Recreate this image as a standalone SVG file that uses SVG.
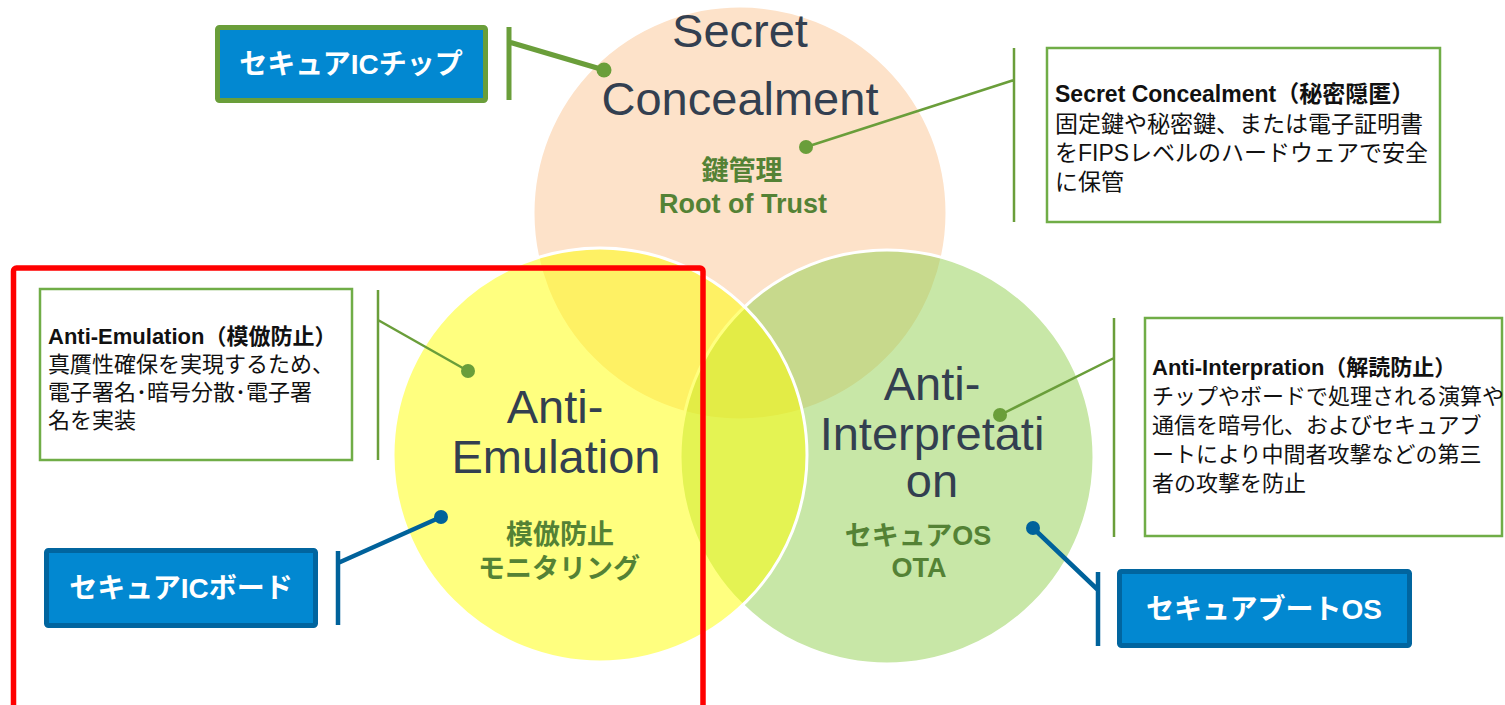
<svg xmlns="http://www.w3.org/2000/svg" width="1505" height="705" viewBox="0 0 1505 705">
<style>
.circ{stroke:#fff;stroke-width:3}
.title{font-family:"Liberation Sans","Noto Sans CJK JP",sans-serif;font-size:47px;fill:#333f50;text-anchor:middle}
.sub{font-family:"Liberation Sans","Noto Sans CJK JP",sans-serif;font-size:27px;font-weight:bold;fill:#548235;text-anchor:middle}
.box{fill:#fff;stroke:#70ad47;stroke-width:2.5}
.body{font-family:"Liberation Sans","Noto Sans CJK JP",sans-serif;font-size:22px;fill:#111}
.bold{font-weight:bold}
.btn{fill:#0288d1;stroke-width:5}
.btntxt{font-family:"Liberation Sans","Noto Sans CJK JP",sans-serif;font-size:28px;font-weight:bold;fill:#fff;text-anchor:middle}
.gline{stroke:#6a9e3a;fill:none}
.bline{stroke:#00629b;fill:none;stroke-width:4.5}
</style>
<rect width="1505" height="705" fill="#fff"/>
<g id="circle-secret">
  <circle class="circ" cx="740" cy="213" r="207" fill="#fde2c9"/>
</g>
<g id="circle-interpretation">
  <circle class="circ" cx="887" cy="457" r="207" fill="#92d050" fill-opacity="0.5"/>
</g>
<g id="circle-emulation">
  <circle class="circ" cx="600" cy="455" r="207" fill="#ffff00" fill-opacity="0.5"/>
</g>
<g id="labels-secret">
  <text class="title" x="740" y="47">Secret</text>
  <text class="title" x="740" y="115">Concealment</text>
  <text class="sub" x="742" y="180">鍵管理</text>
  <text class="sub" x="743" y="213">Root of Trust</text>
</g>
<g id="labels-emulation">
  <text class="title" x="555" y="423">Anti-</text>
  <text class="title" x="556" y="473">Emulation</text>
  <text class="sub" x="560" y="544">模倣防止</text>
  <text class="sub" x="559" y="578">モニタリング</text>
</g>
<g id="labels-interpretation">
  <text class="title" x="932" y="400">Anti-</text>
  <text class="title" x="932" y="450">Interpretati</text>
  <text class="title" x="932" y="497">on</text>
  <text class="sub" x="918" y="545">セキュアOS</text>
  <text class="sub" x="919" y="577">OTA</text>
</g>
<g id="highlight">
  <rect x="13.5" y="268" width="689.5" height="460" rx="3" fill="none" stroke="#ff0000" stroke-width="5.5"/>
</g>
<g id="connectors">
  <path class="gline" stroke-width="5" d="M509 27V100M509 42L604 70"/>
  <circle cx="604" cy="70" r="7.5" fill="#6a9e3a"/>
  <path class="gline" stroke-width="2.5" d="M1014 48V222M1014 80L806 147"/>
  <circle cx="806" cy="147" r="7" fill="#6a9e3a"/>
  <path class="gline" stroke-width="2.5" d="M378 290V460M378 320L468 371"/>
  <circle cx="468" cy="371" r="7" fill="#6a9e3a"/>
  <path class="gline" stroke-width="2.5" d="M1114 318V537M1114 358L1000 415"/>
  <circle cx="1000" cy="415" r="7" fill="#6a9e3a"/>
  <path class="bline" d="M338 551V625M338 563L441 517"/>
  <circle cx="441" cy="517" r="7" fill="#00629b"/>
  <path class="bline" d="M1098 572V646M1098 590L1033 528"/>
  <circle cx="1033" cy="528" r="7" fill="#00629b"/>
</g>
<g id="box-secret">
  <rect class="box" x="1047" y="48" width="393" height="174"/>
  <text class="body bold" x="1055" y="102" style="font-size:23px">Secret Concealment（秘密隠匿）</text>
  <text class="body" x="1055" y="132" style="font-size:23px">固定鍵や秘密鍵、または電子証明書</text>
  <text class="body" x="1055" y="161" style="font-size:23px">をFIPSレベルのハードウェアで安全</text>
  <text class="body" x="1055" y="190" style="font-size:23px">に保管</text>
</g>
<g id="box-emulation">
  <rect class="box" x="40" y="289" width="312" height="171"/>
  <text class="body bold" x="48" y="344">Anti-Emulation（模倣防止）</text>
  <text class="body" x="48" y="372">真贋性確保を実現するため、</text>
  <text class="body" x="48" y="400">電子署名･暗号分散･電子署</text>
  <text class="body" x="48" y="428">名を実装</text>
</g>
<g id="box-interpretation">
  <rect class="box" x="1145" y="318" width="357" height="218"/>
  <text class="body bold" x="1152" y="375">Anti-Interpration（解読防止）</text>
  <text class="body" x="1152" y="404">チップやボードで処理される演算や</text>
  <text class="body" x="1152" y="433">通信を暗号化、およびセキュアブ</text>
  <text class="body" x="1152" y="462">ートにより中間者攻撃などの第三</text>
  <text class="body" x="1152" y="491">者の攻撃を防止</text>
</g>
<g id="btn-chip">
  <rect class="btn" x="217.5" y="27.5" width="268" height="73" rx="2" stroke="#6a9e3a"/>
  <text class="btntxt" x="351" y="74">セキュアICチップ</text>
</g>
<g id="btn-board">
  <rect class="btn" x="46.5" y="550.5" width="269" height="75" rx="2" stroke="#01659f"/>
  <text class="btntxt" x="181" y="598">セキュアICボード</text>
</g>
<g id="btn-boot">
  <rect class="btn" x="1119.5" y="571.5" width="290" height="74" rx="2" stroke="#01659f"/>
  <text class="btntxt" x="1264" y="619">セキュアブートOS</text>
</g>
</svg>
